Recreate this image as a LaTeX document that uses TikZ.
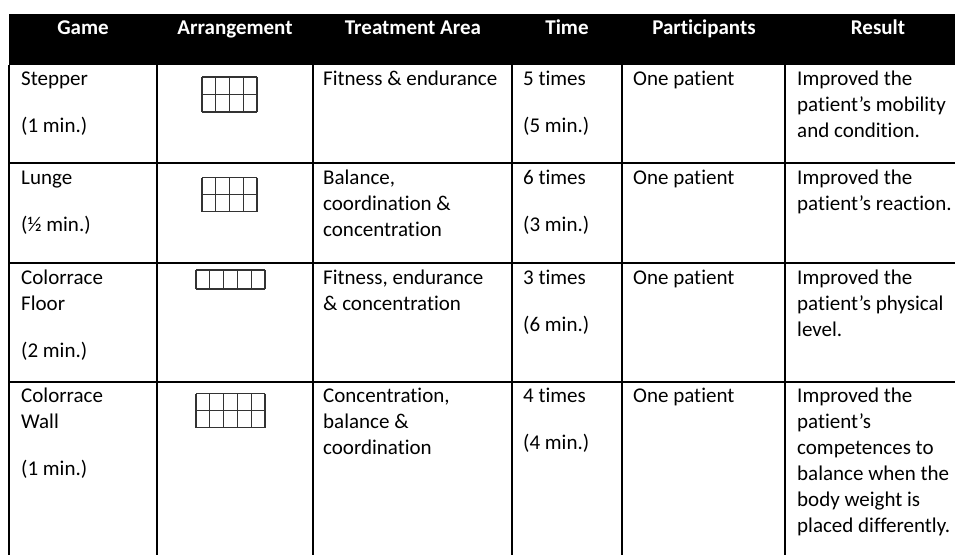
\documentclass[tikz,border=0pt]{standalone}
\usepackage{fontspec}
\setmainfont{Carlito}[RawFeature={-liga}]
\newcommand\celltext[1]{\begin{tabular}[t]{@{}l@{}}#1\end{tabular}}
\begin{document}
\begin{tikzpicture}[x=1pt,y=-1pt,
  rule/.style={line width=1.2pt,draw=black},
  gridln/.style={line width=1.1pt,draw=black!80},
  hdr/.style={text=white,font=\fontsize{21}{26}\selectfont\bfseries,anchor=base,inner sep=0pt},
  cell/.style={font=\fontsize{21}{26}\selectfont,anchor=base west,inner sep=0pt}]
\useasboundingbox (0,0) rectangle (955,554);
% header band
\fill[black] (9,14) rectangle (960,65);
\node[hdr] (hgame) at (83,34) {Game};
\node[hdr] (harr) at (235,34) {Arrangement};
\node[hdr] (htreat) at (413,34) {Treatment Area};
\node[hdr] (htime) at (567,34) {Time};
\node[hdr] (hpart) at (704,34) {Participants};
\node[hdr] (hres) at (878,34) {Result};
% rules
\foreach \x in {9,157,313,512,622,785} \draw[rule] (\x,65) -- (\x,556);
\foreach \y in {163,263,382} \draw[rule] (9,\y) -- (960,\y);
% arrangement grids
\foreach \i in {0,...,4} \draw[gridln] (202+\i*13.75,77) -- (202+\i*13.75,112);
\foreach \j in {0,1,2} \draw[gridln] (202,77+\j*17.5) -- (257,77+\j*17.5);
\foreach \i in {0,...,4} \draw[gridln] (202+\i*13.75,177.5) -- (202+\i*13.75,211.5);
\foreach \j in {0,1,2} \draw[gridln] (202,177.5+\j*17) -- (257,177.5+\j*17);
\foreach \i in {0,...,5} \draw[gridln] (196+\i*13.8,270) -- (196+\i*13.8,289);
\foreach \j in {0,1} \draw[gridln] (196,270+\j*19) -- (265,270+\j*19);
\foreach \i in {0,...,5} \draw[gridln] (196+\i*13.8,393.5) -- (196+\i*13.8,427.5);
\foreach \j in {0,1,2} \draw[gridln] (196,393.5+\j*17) -- (265,393.5+\j*17);
% row 1
\node[cell] (g1) at (21,85) {\celltext{Stepper\\[21pt](1 min.)}};
\node[cell] (t1) at (323,85) {\celltext{Fitness \& endurance}};
\node[cell] (ti1) at (523,85) {\celltext{5 times\\[21pt](5 min.)}};
\node[cell] (p1) at (633,85) {\celltext{One patient}};
\node[cell] (r1) at (797,85) {\celltext{Improved the\\patient’s mobility\\and condition.}};
% row 2
\node[cell] (g2) at (21,184) {\celltext{Lunge\\[21pt](½ min.)}};
\node[cell] (t2) at (323,184) {\celltext{Balance,\\coordination \&\\concentration}};
\node[cell] (ti2) at (523,184) {\celltext{6 times\\[21pt](3 min.)}};
\node[cell] (p2) at (633,184) {\celltext{One patient}};
\node[cell] (r2) at (797,184) {\celltext{Improved the\\patient’s reaction.}};
% row 3
\node[cell] (g3) at (21,284) {\celltext{Colorrace\\Floor\\[21pt](2 min.)}};
\node[cell] (t3) at (323,284) {\celltext{Fitness, endurance\\\& concentration}};
\node[cell] (ti3) at (523,284) {\celltext{3 times\\[21pt](6 min.)}};
\node[cell] (p3) at (633,284) {\celltext{One patient}};
\node[cell] (r3) at (797,284) {\celltext{Improved the\\patient’s physical\\level.}};
% row 4
\node[cell] (g4) at (21,402) {\celltext{Colorrace\\Wall\\[21pt](1 min.)}};
\node[cell] (t4) at (323,402) {\celltext{Concentration,\\balance \&\\coordination}};
\node[cell] (ti4) at (523,402) {\celltext{4 times\\[21pt](4 min.)}};
\node[cell] (p4) at (633,402) {\celltext{One patient}};
\node[cell] (r4) at (797,402) {\celltext{Improved the\\patient’s\\competences to\\balance when the\\body weight is\\placed differently.}};
\end{tikzpicture}
\end{document}
